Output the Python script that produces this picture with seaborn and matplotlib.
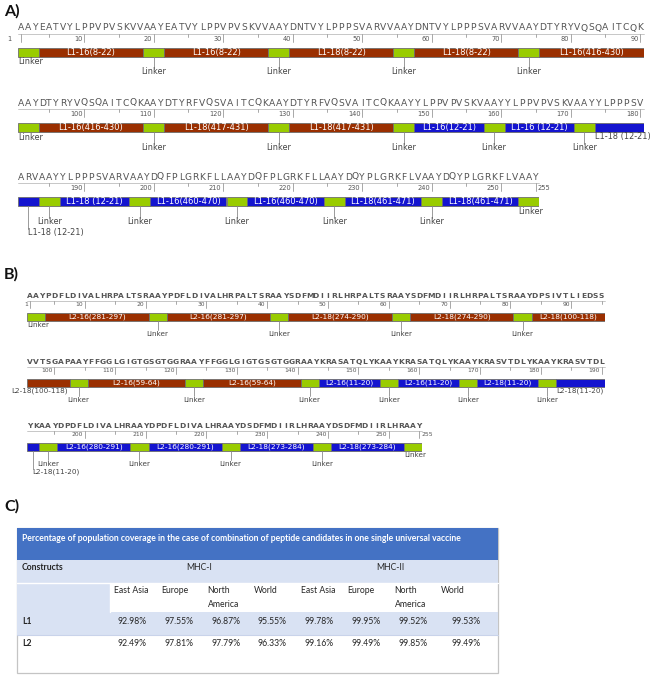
import numpy as np
import matplotlib
matplotlib.use("Agg")
import matplotlib.pyplot as plt
from matplotlib.patches import Rectangle
import seaborn as sns

# ---------------------------------------------------------------- data
# Construct A (L1): sequence rows as printed
L1_rows = [
    "AAYEATVYLPPVPVSKVVAAYEATVYLPPVPVSKVVAAYDNTVYLPPPSVARVVAAYDNTVYLPPPSVARVVAAYDTYRYVQSQAITCQK",
    "AAYDTYRYVQSQAITCQKAAYDTYRFVQSVAITCQKAAYDTYRFVQSVAITCQKAAYYLPPVPVSKVAAYYLPPVPVSKVAAYYLPPPSV",
    "ARVAAYYLPPPSVARVAAYDQFPLGRKFLLAAYDQFPLGRKFLLAAYDQYPLGRKFLVAAYDQYPLGRKFLVAAY",
]
L1_names = ["Linker", "L1-16(8-22)", "Linker", "L1-16(8-22)", "Linker", "L1-18(8-22)",
            "Linker", "L1-18(8-22)", "Linker", "L1-16(416-430)", "Linker", "L1-16(416-430)",
            "Linker", "L1-18(417-431)", "Linker", "L1-18(417-431)", "Linker", "L1-16(12-21)",
            "Linker", "L1-16 (12-21)", "Linker", "L1-18 (12-21)", "Linker", "L1-18 (12-21)",
            "Linker", "L1-16(460-470)", "Linker", "L1-16(460-470)", "Linker", "L1-18(461-471)",
            "Linker", "L1-18(461-471)", "Linker"]
L1_lengths = [3, 15, 3, 15, 3, 15, 3, 15, 3, 15, 3, 15, 3, 15, 3, 15, 3, 10,
              3, 10, 3, 10, 3, 10, 3, 11, 3, 11, 3, 11, 3, 11, 3]
L1_kinds = ["G", "R", "G", "R", "G", "R", "G", "R", "G", "R", "G", "R", "G", "R", "G", "R", "G", "B",
            "G", "B", "G", "B", "G", "B", "G", "B", "G", "B", "G", "B", "G", "B", "G"]

# Construct B (L2)
L2_rows = [
    "AAYPDFLDIVALHRPALTSRAAYPDFLDIVALHRPALTSRAAYSDFMDIIRLHRPALTSRAAYSDFMDIIRLHRPALTSRAAYDPSIVTLIEDSS",
    "VVTSGAPAAYFFGGLGIGTGSGTGGRAAYFFGGLGIGTGSGTGGRAAYKRASATQLYKAAYKRASATQLYKAAYKRASVTDLYKAAYKRASVTDL",
    "YKAAYDPDFLDIVALHRAAYDPDFLDIVALHRAAYDSDFMDIIRLHRAAYDSDFMDIIRLHRAAY",
]
L2_names = ["Linker", "L2-16(281-297)", "Linker", "L2-16(281-297)", "Linker", "L2-18(274-290)",
            "Linker", "L2-18(274-290)", "Linker", "L2-18(100-118)", "Linker", "L2-16(59-64)",
            "Linker", "L2-16(59-64)", "Linker", "L2-16(11-20)", "Linker", "L2-16(11-20)",
            "Linker", "L2-18(11-20)", "Linker", "L2-18(11-20)", "Linker", "L2-16(280-291)",
            "Linker", "L2-16(280-291)", "Linker", "L2-18(273-284)", "Linker", "L2-18(273-284)",
            "Linker"]
L2_lengths = [3, 17, 3, 17, 3, 17, 3, 17, 3, 19, 3, 16, 3, 16, 3, 10, 3, 10,
              3, 10, 3, 10, 3, 12, 3, 12, 3, 12, 3, 12, 3]
L2_kinds = ["G", "R", "G", "R", "G", "R", "G", "R", "G", "R", "G", "R", "G", "R", "G", "B", "G", "B",
            "G", "B", "G", "B", "G", "B", "G", "B", "G", "B", "G", "B", "G"]

# Table C
table_title = ("Percentage of population coverage in the case of combination of "
               "peptide candidates in one single universal vaccine")
mhc_groups = ["MHC-I", "MHC-II"]
regions = ["East Asia", "Europe", "North America", "World"]
constructs = ["L1", "L2"]
mhc1_L1 = [92.98, 97.55, 96.87, 95.55]
mhc2_L1 = [99.78, 99.95, 99.52, 99.53]
mhc1_L2 = [92.49, 97.81, 97.79, 96.33]
mhc2_L2 = [99.16, 99.49, 99.85, 99.49]

# ---------------------------------------------------------------- style
sns.set_theme(style="white")
plt.rcParams["font.family"] = ["DejaVu Sans"]
pal = dict(zip(["R", "B", "G"], sns.color_palette(["#9a2f00", "#1414cf", "#99cc00"])))

W, H = 658, 676
fig = plt.figure(figsize=(W / 100, H / 100), dpi=100)
fig.patch.set_facecolor("white")

# label-placement exceptions (layout only) keyed by first residue of a drawn piece
A_place = {1: "below", 91: "below", 181: "stem2", 253: "below"}
B_place = {1: "below", 96: "below_right", 191: "stem2", 253: "below"}

cfgA = dict(x0=18, ppr=6.95, text_y=[28, 103, 177], bar_gap=19.5, bar_h=9,
            seq_fs=6.6, seq_w="normal", lab_fs=5.9, in_fs=6.0, tick_fs=4.8,
            lv=(5.5, 15.5, 27), line_dy=6, tick_len=8, one_gap=10)
cfgB = dict(x0=27, ppr=6.08, text_y=[296, 362, 426], bar_gap=16.5, bar_h=8,
            seq_fs=5.4, seq_w="bold", lab_fs=5.2, in_fs=5.3, tick_fs=4.3,
            lv=(4.5, 13, 21.5), line_dy=4.5, tick_len=7, one_gap=2)


def draw_construct(rows, names, lengths, kinds, cfg, place):
    total = sum(lengths)
    starts = np.cumsum([0] + lengths[:-1]) + 1
    ends = starts + np.array(lengths) - 1
    ppr = cfg["ppr"]
    r0 = 1
    for ri, seq in enumerate(rows):
        n = len(seq)
        r1 = r0 + n - 1
        ax = fig.add_axes([cfg["x0"] / W, 0, n * ppr / W, 1])
        ax.set_xlim(r0 - 0.5, r1 + 0.5)
        ax.set_ylim(H, 0)
        ax.axis("off")
        ty = cfg["text_y"][ri]
        # sequence letters
        for i, ch in enumerate(seq):
            ax.text(r0 + i, ty, ch, ha="center", va="center", fontsize=cfg["seq_fs"],
                    color="#555555", fontweight=cfg["seq_w"])
        # ruler
        ly = ty + cfg["line_dy"]
        ax.plot([r0 - 0.5, r1 + 0.5], [ly, ly], color="#b0b0b0", lw=0.5, clip_on=False)
        for p in range(r0, r1 + 1):
            major = (p % 10 == 0) or p == 1 or p == total
            minor = p % 5 == 0
            if not (major or minor):
                continue
            L = cfg["tick_len"] if major else 3
            ax.plot([p, p], [ly, ly + L], color="#9a9a9a", lw=0.6, clip_on=False)
            if major:
                yl = ly + cfg["tick_len"] * 0.6
                if p == 1:
                    ax.text(p - cfg["one_gap"] / ppr, yl, "1", ha="right", va="center",
                            fontsize=cfg["tick_fs"], color="#555555")
                elif p == total:
                    ax.text(p + 2 / ppr, yl, str(p), ha="left", va="center",
                            fontsize=cfg["tick_fs"], color="#555555")
                else:
                    ax.text(p - 1.5 / ppr, yl, str(p), ha="right", va="center",
                            fontsize=cfg["tick_fs"], color="#555555")
        # features
        bt = ty + cfg["bar_gap"]
        bb = bt + cfg["bar_h"]
        for s, e, name, k in zip(starts, ends, names, kinds):
            ps, pe = max(s, r0), min(e, r1)
            if ps > pe:
                continue
            ax.add_patch(Rectangle((ps - 0.5, bt), pe - ps + 1, cfg["bar_h"],
                                   facecolor=pal[k], edgecolor="#6e6e6e", lw=0.6))
            cx = (ps + pe) / 2
            plen = pe - ps + 1
            mode = place.get(ps)
            if mode is None:
                if name == "Linker":
                    mode = "stem1"
                elif plen >= 10:
                    mode = "inside"
                else:
                    mode = "below"
            lv = cfg["lv"]
            fs = cfg["lab_fs"]
            if mode == "inside":
                ax.text(cx, bt + cfg["bar_h"] / 2 + 0.3, name, ha="center", va="center",
                        fontsize=cfg["in_fs"], color="white")
            elif mode == "below":
                ax.text(ps - 0.5, bb + lv[0], name, ha="left", va="center",
                        fontsize=fs, color="#444444")
            elif mode == "below_right":
                ax.text(pe + 0.5 - 2 / ppr, bb + lv[0], name, ha="right", va="center",
                        fontsize=fs, color="#444444")
            elif mode == "stem1":
                ax.plot([cx, cx], [bb, bb + lv[1] - 3.5], color="#8a8a8a", lw=0.6)
                ax.text(cx, bb + lv[1], name, ha="center", va="center",
                        fontsize=fs, color="#444444")
            elif mode == "stem2":
                ax.plot([cx, cx], [bb, bb + lv[2] - 3.5], color="#8a8a8a", lw=0.6)
                ax.text(cx - 0.5 / ppr, bb + lv[2], name, ha="left", va="center",
                        fontsize=fs, color="#444444")
        r0 = r1 + 1


draw_construct(L1_rows, L1_names, L1_lengths, L1_kinds, cfgA, A_place)
draw_construct(L2_rows, L2_names, L2_lengths, L2_kinds, cfgB, B_place)

# ---------------------------------------------------------------- panel labels + table
axT = fig.add_axes([0, 0, 1, 1], zorder=-1)
axT.set_xlim(0, W)
axT.set_ylim(H, 0)
axT.axis("off")

for lab, y in zip(["A)", "B)", "C)"], [11, 274, 506]):
    axT.text(4, y, lab, ha="left", va="center", fontsize=11.5, fontweight="bold",
             family="Lato", color="#111111")

tx0, tx1, ty0, ty1 = 17, 498, 528, 673
light = "#d9e2f3"
axT.add_patch(Rectangle((tx0, ty0), tx1 - tx0, ty1 - ty0, facecolor="white",
                        edgecolor="#c4c4c4", lw=0.9))
axT.add_patch(Rectangle((tx0, ty0), tx1 - tx0, 32, facecolor="#4472c4", edgecolor="none"))
axT.add_patch(Rectangle((tx0, 560), tx1 - tx0, 23, facecolor=light, edgecolor="none"))
axT.add_patch(Rectangle((tx0, 583), 110 - tx0, 29, facecolor=light, edgecolor="none"))
axT.add_patch(Rectangle((tx0, 612), tx1 - tx0, 23, facecolor=light, edgecolor="none"))
axT.plot([tx0, tx1], [583, 583], color="white", lw=1.0)
axT.plot([tx0, tx1], [635, 635], color="#c9d3ea", lw=0.8)
axT.plot([110, 110], [583, 612], color="white", lw=1.0)

fs_t = 6.2
tfont = dict(family="Lato", color="#262626")
axT.text(22, 538.5, table_title, ha="left", va="center", fontsize=6.25,
         fontweight="bold", family="Lato", color="white")
axT.text(22, 568, "Constructs", ha="left", va="center", fontsize=fs_t,
         fontweight="bold", **tfont)

col_left = [110 + k * 46.75 for k in range(8)]
col_right = col_left[1:] + [491]
for g, name in enumerate(mhc_groups):
    cx = (col_left[4 * g] + col_right[4 * g + 3]) / 2 - 4
    axT.text(cx, 568, name, ha="center", va="center", fontsize=fs_t, **tfont)
    for j, reg in enumerate(regions):
        k = 4 * g + j
        axT.text(col_left[k] + 4, 586, reg.replace("North ", "North\n"), ha="left",
                 va="top", fontsize=fs_t, linespacing=1.65, **tfont)

values = {"L1": mhc1_L1 + mhc2_L1, "L2": mhc1_L2 + mhc2_L2}
for c, y in zip(constructs, [622, 643]):
    axT.text(22, y, c, ha="left", va="center", fontsize=fs_t, fontweight="bold", **tfont)
    for k, v in enumerate(values[c]):
        axT.text(col_right[k] - 10, y, f"{v:.2f}%", ha="right", va="center",
                 fontsize=fs_t, **tfont)

fig.savefig("out.png", dpi=100, facecolor="white")
